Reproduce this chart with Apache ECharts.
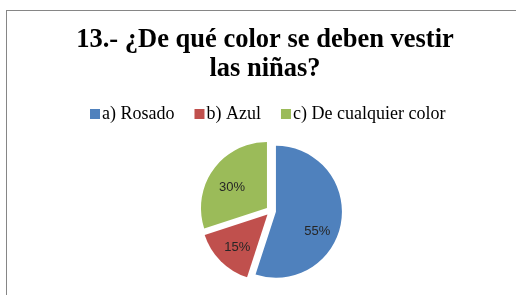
<!DOCTYPE html>
<html>
<head>
<meta charset="utf-8">
<script src="https://cdn.jsdelivr.net/npm/echarts@6/dist/echarts.min.js"></script>
<style>
  html, body { margin: 0; padding: 0; background: #fff; overflow: hidden; }
  #frame { position: absolute; left: 6px; top: 10px; width: 520px; height: 300px; border: 1px solid #868686; box-sizing: border-box; }
  #chart { position: absolute; left: 7px; top: 0; width: 516px; height: 295px; }
</style>
</head>
<body>
<div id="frame"></div>
<div id="chart"></div>
<script>
// datos de la pregunta 13
var categories = ['a) Rosado', 'b) Azul', 'c) De cualquier color'];
var values = [55, 15, 30];
var colors = ['#4F81BD', '#C0504D', '#9BBB59'];
// corrimiento de cada etiqueta (como en excel)
var labelShift = [[-5, 12], [3, 0], [3, 7]];

var chart = echarts.init(document.getElementById('chart'));

var pieData = categories.map(function (name, i) {
  return { name: name, value: values[i], selected: true, itemStyle: { color: colors[i] } };
});
// misma data, solo para poner las etiquetas mas afuera
var labelData = categories.map(function (name, i) {
  return { name: name, value: values[i], selected: true };
});

var option = {
  animation: false,
  title: {
    text: '13.- ¿De qué color se deben vestir\nlas niñas?',
    left: 'center',
    top: 21,
    textStyle: {
      fontFamily: 'Liberation Serif',
      fontWeight: 'bold',
      fontSize: 26.5,
      lineHeight: 29,
      color: '#000'
    }
  },
  legend: {
    data: categories,
    top: 105,
    left: 83,
    padding: 0,
    icon: 'rect',
    itemWidth: 10,
    itemHeight: 10,
    itemGap: 20,
    selectedMode: false,
    textStyle: { fontFamily: 'Liberation Serif', fontSize: 18, color: '#000', padding: [0, 0, 0, -3] }
  },
  series: [{
    type: 'pie',
    center: [264, 211],
    radius: [0, 66],
    startAngle: 90,
    selectedMode: 'multiple',
    selectedOffset: 5,
    silent: true,
    label: { show: false },
    labelLine: { show: false },
    data: pieData
  }, {
    type: 'pie',
    center: [264, 211],
    radius: [22, 66],
    startAngle: 90,
    selectedMode: 'multiple',
    selectedOffset: 5,
    silent: true,
    legendHoverLink: false,
    itemStyle: { color: 'rgba(0,0,0,0)' },
    label: {
      show: true,
      position: 'inside',
      formatter: '{c}%',
      fontFamily: 'Liberation Sans',
      fontSize: 13,
      color: '#262626'
    },
    labelLayout: function (params) {
      var s = labelShift[params.dataIndex];
      return { dx: s[0], dy: s[1] };
    },
    labelLine: { show: false },
    data: labelData
  }]
};

chart.setOption(option);
</script>
</body>
</html>
